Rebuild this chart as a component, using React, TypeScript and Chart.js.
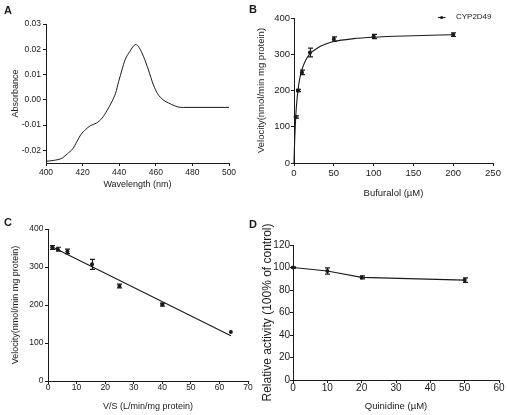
import React, { useEffect, useRef } from 'react';
import { Chart, registerables } from 'chart.js';

Chart.register(...registerables);

const FONT = '"Liberation Sans", Arial, Helvetica, sans-serif';
const INK = '#1a1a1a';

// ---------- Panel A: difference spectrum ----------
const wavelengthNm = [400, 404, 409, 411.6, 414.7, 417, 419, 421.6, 424.3, 427.6, 430.7, 433.4, 436, 438, 439.7, 441.5, 443.3, 445.7, 447.5, 449, 450.9, 453.3, 456, 458.7, 461, 464, 468, 472, 475, 500];
const absorbance = [-0.0243, -0.024, -0.023, -0.0214, -0.0193, -0.0164, -0.0138, -0.0118, -0.0102, -0.0092, -0.0072, -0.0042, -0.0007, 0.0026, 0.0072, 0.0118, 0.016, 0.019, 0.021, 0.0219, 0.0207, 0.0171, 0.0118, 0.0059, 0.0024, 0.0, -0.0016, -0.0028, -0.003, -0.003];
const absorbanceTicks = [-0.02, -0.01, 0, 0.01, 0.02, 0.03];

// ---------- Panel B: Michaelis–Menten ----------
const bufuralolUM = [2, 5, 10, 20, 50, 100, 200];
const velocityB = [127, 200, 250, 305, 342, 349, 354];
const velocityErrB = [3, 3, 6, 12, 6, 6, 5];
const fitBufuralolUM = [0, 0.5, 1, 2, 3, 5, 7.5, 10, 15, 20, 30, 40, 50, 75, 100, 150, 200];
const fitVelocityB = [0, 40, 72, 121, 155, 201, 236, 258, 285, 301, 318, 328, 335, 343, 347, 351, 354];
const legendLabelB = 'CYP2D49';

// ---------- Panel C: Eadie–Hofstee ----------
const vOverS = [1.5, 3.4, 6.8, 15.4, 25, 40, 64];
const velocityC = [351, 347, 341, 307, 250, 201, 129];
const velocityErrC = [5, 5, 6, 13, 5, 4, 0];
const regressionVS = [1.7, 64];
const regressionV = [352, 119];

// ---------- Panel D: inhibition ----------
const quinidineUM = [0, 10, 20, 50];
const relActivity = [100, 96.9, 91.2, 88.8];
const relActivityErr = [0.6, 2.7, 1.3, 2];

const pts = (xs: number[], ys: number[]) => xs.map((x, i) => ({ x, y: ys[i] }));

const makeAxis = (o: any) => ({
  type: 'linear',
  min: o.min,
  max: o.max,
  ticks: {
    stepSize: o.step,
    font: { family: FONT, size: o.tickSize },
    color: INK,
    padding: o.tickPad,
    maxRotation: 0,
    autoSkip: false,
    ...(o.format ? { callback: o.format } : {}),
  },
  grid: { display: true, drawOnChartArea: false, drawTicks: true, tickLength: 3, color: INK, lineWidth: 1 },
  border: { display: true, color: INK, width: 1 },
  title: {
    display: true,
    text: o.title,
    font: { family: FONT, size: o.titleSize },
    color: INK,
    padding: o.horizontal ? { top: 0, bottom: o.titlePad } : { top: o.titlePad, bottom: 0 },
  },
  afterFit: (s: any) => {
    if (o.horizontal) s.height = o.fit;
    else s.width = o.fit;
  },
  ...(o.ticksList
    ? { afterBuildTicks: (s: any) => { s.ticks = o.ticksList.map((v: number) => ({ value: v })); } }
    : {}),
});

const errorBars = (dsIndex: number, errs: number[]) => ({
  id: 'errorBars',
  afterDatasetsDraw(chart: any) {
    const meta = chart.getDatasetMeta(dsIndex);
    const ds = chart.data.datasets[dsIndex];
    const ys = chart.scales.y;
    const ctx = chart.ctx;
    ctx.save();
    ctx.strokeStyle = INK;
    ctx.lineWidth = 1.2;
    meta.data.forEach((pt: any, i: number) => {
      const e = errs[i];
      if (!e) return;
      const v = ds.data[i].y;
      const x = Math.round(pt.x) + 0.5;
      const yt = ys.getPixelForValue(v + e);
      const yb = ys.getPixelForValue(v - e);
      ctx.beginPath();
      ctx.moveTo(x, yt);
      ctx.lineTo(x, yb);
      ctx.moveTo(x - 2.5, yt);
      ctx.lineTo(x + 2.5, yt);
      ctx.moveTo(x - 2.5, yb);
      ctx.lineTo(x + 2.5, yb);
      ctx.stroke();
    });
    ctx.restore();
  },
});

const legendPluginB = {
  id: 'legendB',
  afterDraw(chart: any) {
    const { ctx, chartArea } = chart;
    ctx.save();
    ctx.font = `8px ${FONT}`;
    ctx.fillStyle = INK;
    ctx.textAlign = 'right';
    ctx.textBaseline = 'middle';
    const y = chartArea.top - 1;
    const right = chartArea.right - 1.5;
    const w = ctx.measureText(legendLabelB).width;
    ctx.fillText(legendLabelB, right, y);
    const left = right - w;
    ctx.strokeStyle = INK;
    ctx.lineWidth = 1;
    ctx.beginPath();
    ctx.moveTo(left - 18, Math.round(y) + 0.5);
    ctx.lineTo(left - 10.5, Math.round(y) + 0.5);
    ctx.stroke();
    ctx.beginPath();
    ctx.arc(left - 14.3, Math.round(y) + 0.5, 1.6, 0, Math.PI * 2);
    ctx.fill();
    ctx.restore();
  },
};

const baseOptions = (padding: any, scales: any) => ({
  responsive: false,
  animation: false,
  devicePixelRatio: 1,
  events: [],
  layout: { padding },
  plugins: { legend: { display: false }, tooltip: { enabled: false } },
  scales,
});

const configA = () => ({
  type: 'scatter',
  data: {
    datasets: [
      {
        data: pts(wavelengthNm, absorbance),
        showLine: true,
        pointRadius: 0,
        borderColor: INK,
        borderWidth: 1,
        cubicInterpolationMode: 'monotone',
        clip: false,
      },
    ],
  },
  options: baseOptions({ top: 24, right: 25, bottom: 0, left: 0 }, {
    x: makeAxis({ min: 400, max: 500, step: 20, title: 'Wavelength (nm)', tickSize: 8.5, titleSize: 9, titlePad: 14.6, tickPad: 2, fit: 42, horizontal: true }),
    y: makeAxis({ min: -0.025, max: 0.03, title: 'Absorbance', tickSize: 8.5, titleSize: 9, titlePad: 10.6, tickPad: 2, fit: 46, ticksList: absorbanceTicks, format: (v: number) => Number(v).toFixed(2) }),
  }),
});

const configB = () => ({
  type: 'scatter',
  data: {
    datasets: [
      {
        data: pts(fitBufuralolUM, fitVelocityB),
        showLine: true,
        pointRadius: 0,
        borderColor: INK,
        borderWidth: 1.1,
        cubicInterpolationMode: 'monotone',
        clip: false,
      },
      {
        label: legendLabelB,
        data: pts(bufuralolUM, velocityB),
        showLine: false,
        pointRadius: 2,
        pointBackgroundColor: INK,
        pointBorderColor: INK,
        pointBorderWidth: 0,
        clip: false,
      },
    ],
  },
  options: baseOptions({ top: 18, right: 14, bottom: 0, left: 0 }, {
    x: makeAxis({ min: 0, max: 250, step: 50, title: 'Bufuralol (\u00b5M)', tickSize: 9.5, titleSize: 9.5, titlePad: 6, tickPad: 2, fit: 42, horizontal: true }),
    y: makeAxis({ min: 0, max: 400, step: 100, title: 'Velocity(nmol/min mg protein)', tickSize: 9.5, titleSize: 9.5, titlePad: 1.6, tickPad: 1, fit: 40 }),
  }),
  plugins: [errorBars(1, velocityErrB), legendPluginB],
});

const configC = () => ({
  type: 'scatter',
  data: {
    datasets: [
      {
        data: pts(regressionVS, regressionV),
        showLine: true,
        pointRadius: 0,
        borderColor: INK,
        borderWidth: 1.1,
        clip: false,
      },
      {
        data: pts(vOverS, velocityC),
        showLine: false,
        pointRadius: 2,
        pointBackgroundColor: INK,
        pointBorderColor: INK,
        pointBorderWidth: 0,
        clip: false,
      },
    ],
  },
  options: baseOptions({ top: 24, right: 6, bottom: 0, left: 0 }, {
    x: makeAxis({ min: 0, max: 70, step: 10, title: 'V/S (L/min/mg protein)', tickSize: 8.5, titleSize: 9, titlePad: 2.9, tickPad: -1, fit: 34, horizontal: true }),
    y: makeAxis({ min: 0, max: 400, step: 100, title: 'Velocity(nmol/min mg protein)', tickSize: 8.5, titleSize: 9, titlePad: 10.6, tickPad: 1.5, fit: 48 }),
  }),
  plugins: [errorBars(1, velocityErrC)],
});

const configD = () => ({
  type: 'scatter',
  data: {
    datasets: [
      {
        data: pts(quinidineUM, relActivity),
        showLine: true,
        pointRadius: 2,
        pointBackgroundColor: INK,
        pointBorderColor: INK,
        pointBorderWidth: 0,
        borderColor: INK,
        borderWidth: 1.1,
        clip: false,
      },
    ],
  },
  options: baseOptions({ top: 40, right: 8, bottom: 0, left: 0 }, {
    x: makeAxis({ min: 0, max: 60, step: 10, title: 'Quinidine (\u00b5M)', tickSize: 10, titleSize: 9.5, titlePad: 2.6, tickPad: -1, fit: 35, horizontal: true }),
    y: makeAxis({ min: 0, max: 120, step: 20, title: 'Relative activity (100% of control)', tickSize: 10, titleSize: 12, titlePad: 6.8, tickPad: 0, fit: 39 }),
  }),
  plugins: [errorBars(0, relActivityErr)],
});

function Panel(props: { left: number; top: number; width: number; height: number; config: () => any }) {
  const ref = useRef<HTMLCanvasElement>(null);
  useEffect(() => {
    const chart = new Chart(ref.current as HTMLCanvasElement, props.config() as any);
    return () => chart.destroy();
  }, []);
  const { left, top, width, height } = props;
  return (
    <div style={{ position: 'absolute', left, top, width, height }}>
      <canvas ref={ref} width={width} height={height} style={{ display: 'block', width, height }} />
    </div>
  );
}

const labelStyle = (left: number, top: number): React.CSSProperties => ({
  position: 'absolute',
  left,
  top,
  fontFamily: FONT,
  fontWeight: 'bold',
  fontSize: 11,
  lineHeight: '11px',
  color: INK,
});

export default function App() {
  return (
    <div style={{ position: 'absolute', left: 0, top: 0, width: 507, height: 415, background: '#fff', overflow: 'hidden' }}>
      <Panel left={0} top={0} width={254} height={205} config={configA} />
      <Panel left={254} top={0} width={253} height={205} config={configB} />
      <Panel left={0} top={205} width={254} height={210} config={configC} />
      <Panel left={254} top={205} width={253} height={210} config={configD} />
      <div style={labelStyle(4, 5)}>A</div>
      <div style={labelStyle(249, 4)}>B</div>
      <div style={labelStyle(4, 216.5)}>C</div>
      <div style={labelStyle(249, 219)}>D</div>
    </div>
  );
}
